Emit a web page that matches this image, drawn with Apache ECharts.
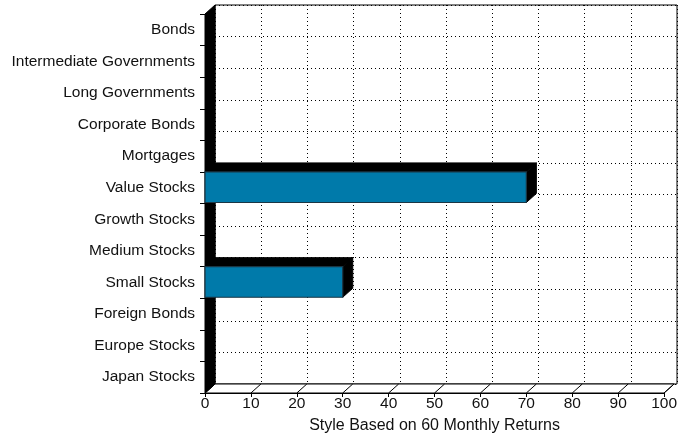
<!DOCTYPE html>
<html><head><meta charset="utf-8">
<script src="https://cdn.jsdelivr.net/npm/echarts/dist/echarts.min.js"></script>
<style>html,body{margin:0;padding:0;background:#fff}#c{width:680px;height:442px}</style>
</head><body><div id="c"></div>
<script>
const categories = ['Bonds','Intermediate Governments','Long Governments','Corporate Bonds','Mortgages','Value Stocks','Growth Stocks','Medium Stocks','Small Stocks','Foreign Bonds','Europe Stocks','Japan Stocks'];
const values = [0,0,0,0,0,70,0,0,30,0,0,0];
const xTicks = [0,10,20,30,40,50,60,70,80,90,100];
const axisTitle = 'Style Based on 60 Monthly Returns';

const DX = 10, DY = 9;
const FONT = "'Liberation Sans', Arial, Helvetica, sans-serif";
const chart = echarts.init(document.getElementById('c'), null, {renderer:'canvas'});
const dots = {color:'#000', width:1, type:[1,3]};

chart.setOption({
  animation:false,
  backgroundColor:'#fff',
  grid:[
    {left:205, right:13, top:14, bottom:49},
    {left:215, right:3, top:5, bottom:58, show:true, borderColor:'#000', borderWidth:1, backgroundColor:'transparent'}
  ],
  xAxis:[
    {gridIndex:0, type:'value', min:0, max:100, interval:10,
     axisLine:{show:true, lineStyle:{color:'#000', width:1}},
     axisTick:{show:true, length:4, lineStyle:{color:'#000'}},
     axisLabel:{margin:3, color:'#111', fontSize:15.5, fontFamily:FONT},
     splitLine:{show:false},
     name:axisTitle, nameLocation:'middle', nameGap:25,
     nameTextStyle:{color:'#111', fontSize:16, fontFamily:FONT}},
    {gridIndex:1, type:'value', min:0, max:100, interval:10,
     axisLine:{show:false}, axisTick:{show:false}, axisLabel:{show:false},
     splitLine:{show:true, lineStyle:dots}}
  ],
  yAxis:[
    {gridIndex:0, type:'category', data:categories, inverse:true,
     axisLine:{show:true, lineStyle:{color:'#000'}},
     axisTick:{show:true, length:5, lineStyle:{color:'#000'}},
     axisLabel:{margin:10, color:'#111', fontSize:15.5, fontFamily:FONT},
     splitLine:{show:false}},
    {gridIndex:1, type:'category', data:categories, inverse:true,
     axisLine:{show:false}, axisTick:{show:false}, axisLabel:{show:false},
     splitLine:{show:true, lineStyle:dots}}
  ],
  series:[
    {type:'custom', xAxisIndex:0, yAxisIndex:0, z:2, silent:true,
     data:[[0,0]],
     renderItem:function(params, api){
       const cs = params.coordSys;
       const x = cs.x, t = cs.y, b = cs.y + cs.height, r = cs.x + cs.width;
       const children = [];
       children.push({type:'polygon', shape:{points:[[x,b],[x+DX,b-DY],[r+DX,b-DY],[r,b]]},
         style:{fill:'#fff', stroke:'#000', lineWidth:1}});
       xTicks.forEach(function(tv){
         const px = api.coord([tv, 0])[0];
         children.push({type:'line', shape:{x1:px, y1:b, x2:px+DX, y2:b-DY},
           style:{stroke:'#000', lineWidth:1}});
       });
       children.push({type:'polygon', shape:{points:[[x,t],[x+DX,t-DY],[x+DX,b-DY],[x,b]]},
         style:{fill:'#000', stroke:'#000', lineWidth:1}});
       return {type:'group', children:children};
     }},
    {type:'custom', xAxisIndex:0, yAxisIndex:0, z:3, silent:true,
     data:values.map(function(v,i){return [v,i];}),
     renderItem:function(params, api){
       const v = api.value(0), i = api.value(1);
       if (!(v > 0)) return null;
       const p0 = api.coord([0,i]), p1 = api.coord([v,i]);
       const h = api.size([0,1])[1];
       const yT = p0[1]-h/2, yB = p0[1]+h/2 - 1;
       const x0 = p0[0], x1 = p1[0];
       return {type:'group', children:[
         {type:'polygon', shape:{points:[[x0,yT],[x0+DX,yT-DY],[x1+DX,yT-DY],[x1,yT]]}, style:{fill:'#000', stroke:'#000', lineWidth:1}},
         {type:'polygon', shape:{points:[[x1,yT],[x1+DX,yT-DY],[x1+DX,yB-DY],[x1,yB]]}, style:{fill:'#000', stroke:'#000', lineWidth:1}},
         {type:'rect', shape:{x:x0, y:yT, width:x1-x0, height:yB-yT}, style:{fill:'#007aaa', stroke:'#1b3644', lineWidth:1.2}}
       ]};
     }}
  ]
});
</script>
</body></html>
